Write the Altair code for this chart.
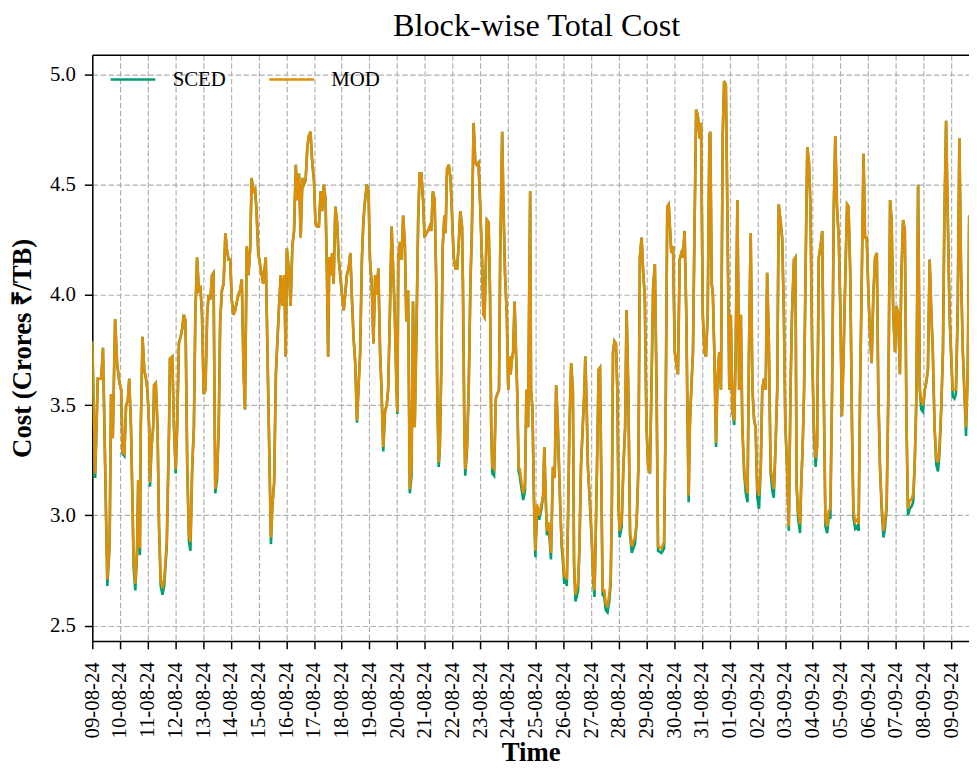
import altair as alt
import pandas as pd

START = "2024-08-09 00:00"

# 15-minute block number since START
BLOCKS = [
    0, 10, 19, 31, 37, 52, 60, 65, 71, 79, 86, 94, 100, 105, 111, 117, 123, 128, 134, 140,
    143, 149, 155, 159, 165, 168, 174, 180, 186, 191, 197, 200, 205, 211, 214, 220, 226, 231, 237, 243,
    249, 258, 266, 269, 277, 283, 289, 294, 300, 306, 312, 317, 323, 329, 335, 340, 346, 352, 357, 363,
    369, 375, 380, 386, 392, 398, 403, 409, 415, 420, 426, 432, 438, 443, 449, 455, 461, 466, 472, 478,
    483, 489, 495, 501, 506, 512, 518, 524, 529, 535, 541, 547, 552, 558, 564, 569, 575, 592, 601, 613,
    619, 624, 630, 636, 647, 653, 659, 665, 670, 674, 682, 687, 693, 699, 705, 710, 716, 722, 728, 733,
    739, 745, 750, 756, 762, 768, 773, 779, 785, 791, 796, 802, 808, 813, 817, 821, 826, 831, 836, 842,
    848, 854, 859, 865, 871, 876, 882, 888, 894, 899, 905, 911, 917, 922, 928, 934, 939, 945, 951, 957,
    962, 968, 974, 980, 985, 991, 997, 1002, 1008, 1014, 1020, 1025, 1031, 1037, 1043, 1048, 1054, 1057, 1060, 1066,
    1071, 1077, 1083, 1088, 1094, 1100, 1106, 1111, 1117, 1123, 1129, 1134, 1140, 1146, 1151, 1157, 1163, 1169, 1174, 1180,
    1186, 1192, 1195, 1200, 1204, 1209, 1214, 1220, 1224, 1229, 1235, 1241, 1247, 1252, 1258, 1264, 1269, 1275, 1281, 1284,
    1289, 1292, 1298, 1304, 1310, 1315, 1321, 1327, 1332, 1338, 1344, 1350, 1355, 1359, 1363, 1367, 1373, 1378, 1382, 1386,
    1392, 1398, 1403, 1409, 1413, 1420, 1424, 1430, 1436, 1441, 1445, 1449, 1454, 1458, 1463, 1468, 1472, 1477, 1481, 1486,
    1493, 1499, 1504, 1510, 1513, 1517, 1520, 1525, 1530, 1535, 1541, 1548, 1556, 1562, 1566, 1571, 1575, 1580, 1585, 1589,
    1596, 1602, 1607, 1613, 1617, 1621, 1626, 1630, 1635, 1640, 1644, 1649, 1653, 1659, 1665, 1669, 1674, 1678, 1683, 1688,
    1693, 1699, 1705, 1708, 1713, 1717, 1724, 1731, 1736, 1740, 1745, 1751, 1754, 1759, 1763, 1768, 1774, 1779, 1785, 1791,
    1796, 1800, 1804, 1809, 1814, 1819, 1823, 1827, 1834, 1840, 1846, 1851, 1857, 1863, 1869, 1874, 1880, 1886, 1892, 1897,
    1903, 1909, 1914, 1920, 1926, 1932, 1937, 1943, 1949, 1955, 1960, 1972, 1981, 1986, 1992, 1997, 2006, 2012, 2018, 2023,
    2029, 2035, 2041, 2046, 2052, 2058, 2061, 2066, 2070, 2075, 2081, 2086, 2092, 2098, 2104, 2109, 2115, 2121, 2126, 2132,
    2138, 2141, 2146, 2150, 2155, 2161, 2166, 2172, 2178, 2184, 2189, 2195, 2201, 2207, 2212, 2218, 2224, 2229, 2235, 2241,
    2247, 2252, 2258, 2264, 2270, 2275, 2281, 2287, 2293, 2298, 2304, 2310, 2316, 2321, 2327, 2333, 2338, 2344, 2350, 2356,
    2361, 2367, 2373, 2378, 2384, 2390, 2396, 2401, 2407, 2413, 2419, 2424, 2431, 2436, 2440, 2445, 2452, 2456, 2461, 2466,
    2471, 2477, 2483, 2488, 2494, 2500, 2506, 2511, 2517, 2523, 2529, 2534, 2540, 2546, 2551, 2557, 2563, 2569, 2574, 2580,
    2586, 2592, 2597, 2603, 2609, 2615, 2620, 2626, 2632, 2637, 2643, 2649, 2655, 2660, 2666, 2672, 2677, 2683, 2689, 2695,
    2700, 2706, 2712, 2718, 2723, 2729, 2735, 2741, 2746, 2752, 2758, 2764, 2769, 2775, 2781, 2786, 2792, 2798, 2803, 2809,
    2815, 2821, 2826, 2832, 2838, 2844, 2849, 2855, 2861, 2867, 2872, 2878, 2884, 2889, 2895, 2901, 2907, 2912, 2918, 2924,
    2930, 2935, 2941, 2947, 2952, 2958, 2964, 2970, 2975, 2981, 2987, 2992, 2998, 3004, 3010, 3016, 3021, 3027, 3033, 3038,
]

MOD = [
    3.79, 3.19, 3.62, 3.62, 3.76, 2.71, 2.88, 3.55, 3.35, 3.89, 3.69, 3.60, 3.57, 3.29, 3.28, 3.50, 3.52, 3.62, 3.40, 3.02,
    2.81, 2.69, 2.85, 3.16, 2.85, 3.40, 3.81, 3.66, 3.62, 3.57, 3.40, 3.15, 3.31, 3.40, 3.59, 3.60, 3.40, 2.97, 2.71, 2.67,
    2.71, 2.88, 3.40, 3.71, 3.72, 3.40, 3.21, 3.40, 3.78, 3.81, 3.85, 3.91, 3.88, 3.22, 2.91, 2.88, 3.22, 3.40, 3.91, 4.17,
    4.02, 4.03, 3.91, 3.55, 3.57, 3.91, 4.00, 3.98, 4.09, 4.10, 3.12, 3.19, 3.40, 3.88, 4.02, 4.05, 4.28, 4.21, 4.16, 4.16,
    3.98, 3.91, 3.93, 3.97, 4.00, 4.02, 4.07, 3.66, 3.48, 4.22, 4.09, 4.21, 4.53, 4.47, 4.48, 4.38, 4.19, 4.05, 4.17, 3.30,
    2.90, 3.05, 3.15, 3.64, 3.95, 4.09, 3.95, 4.09, 3.72, 4.21, 4.09, 3.95, 4.22, 4.29, 4.59, 4.43, 4.55, 4.26, 4.53, 4.50,
    4.52, 4.67, 4.72, 4.74, 4.60, 4.52, 4.33, 4.31, 4.31, 4.47, 4.38, 4.50, 4.43, 4.09, 3.72, 4.17, 4.09, 4.19, 4.05, 4.40,
    4.33, 4.16, 4.09, 4.00, 3.93, 4.00, 4.09, 4.12, 4.19, 4.00, 3.81, 3.69, 3.43, 3.57, 3.74, 4.16, 4.33, 4.43, 4.50, 4.47,
    4.16, 4.05, 3.78, 4.09, 4.00, 4.12, 3.74, 3.57, 3.31, 3.47, 3.50, 3.57, 3.91, 4.31, 4.09, 3.91, 3.57, 3.47, 4.16, 4.24,
    4.16, 4.36, 4.22, 3.88, 4.02, 3.12, 3.22, 3.97, 3.40, 3.83, 4.34, 4.55, 4.55, 4.43, 4.26, 4.28, 4.29, 4.31, 4.29, 4.47,
    4.43, 4.03, 3.57, 3.24, 3.31, 3.66, 4.22, 4.36, 4.28, 4.57, 4.59, 4.53, 4.34, 4.17, 4.12, 4.12, 4.22, 4.38, 4.31, 4.05,
    3.40, 3.21, 3.31, 3.57, 4.05, 4.29, 4.78, 4.60, 4.59, 4.60, 4.40, 4.17, 3.91, 3.90, 4.12, 4.34, 4.33, 4.00, 3.40, 3.22,
    3.21, 3.53, 3.55, 3.57, 4.16, 4.74, 4.43, 4.09, 3.91, 3.57, 3.72, 3.64, 3.71, 3.74, 3.97, 3.74, 3.57, 3.22, 3.21, 3.16,
    3.10, 3.14, 3.57, 3.40, 3.91, 4.47, 3.57, 3.48, 3.09, 2.84, 3.05, 3.00, 3.05, 3.09, 3.31, 3.09, 2.93, 2.97, 2.91, 2.83,
    3.22, 3.17, 3.59, 3.40, 3.22, 3.05, 2.88, 2.83, 2.72, 2.74, 2.71, 3.05, 3.40, 3.69, 3.57, 2.79, 2.64, 2.67, 2.69, 2.88,
    3.22, 3.40, 3.57, 3.72, 3.48, 3.22, 3.07, 2.88, 2.71, 2.66, 2.97, 3.40, 3.66, 3.67, 3.22, 2.66, 2.66, 2.60, 2.59, 2.64,
    2.71, 3.05, 3.74, 3.79, 3.78, 3.57, 3.05, 2.93, 2.98, 3.22, 3.40, 3.93, 3.57, 2.93, 2.86, 2.88, 2.90, 2.97, 3.22, 4.17,
    4.26, 4.09, 4.00, 3.40, 3.22, 3.19, 3.57, 4.03, 4.14, 3.57, 2.86, 2.85, 2.88, 3.40, 4.40, 4.41, 4.19, 4.22, 3.74, 3.69,
    3.64, 4.16, 4.19, 4.17, 4.29, 3.91, 3.57, 3.09, 3.40, 3.57, 3.74, 4.26, 4.84, 4.81, 4.71, 4.78, 3.91, 3.74, 3.72, 3.91,
    4.72, 4.74, 4.05, 4.00, 3.74, 3.33, 3.62, 3.74, 3.57, 4.72, 4.97, 4.95, 4.29, 3.57, 3.91, 3.47, 3.43, 3.74, 4.43, 3.57,
    3.91, 3.40, 3.22, 3.14, 3.10, 3.74, 4.28, 3.57, 3.43, 3.40, 3.12, 3.09, 3.22, 3.57, 3.62, 3.57, 4.10, 3.78, 3.22, 3.16,
    3.12, 3.31, 3.57, 4.41, 4.34, 4.26, 3.91, 3.41, 3.22, 2.95, 3.57, 3.91, 4.16, 4.17, 3.14, 3.02, 2.96, 3.14, 3.31, 3.57,
    4.09, 4.67, 4.60, 4.40, 3.74, 3.40, 3.26, 3.31, 4.17, 4.22, 4.29, 3.57, 2.98, 2.95, 3.02, 3.03, 3.57, 4.40, 4.72, 4.40,
    4.26, 3.91, 3.45, 3.74, 4.09, 4.41, 4.40, 4.09, 3.40, 3.02, 2.97, 2.98, 2.97, 3.57, 4.09, 4.64, 4.26, 4.26, 4.00, 3.81,
    3.69, 4.00, 4.17, 4.19, 3.57, 3.22, 3.05, 2.93, 2.97, 3.05, 3.57, 4.43, 4.34, 3.91, 3.74, 3.95, 3.91, 3.64, 4.09, 4.34,
    4.29, 3.40, 3.03, 3.07, 3.07, 3.10, 3.22, 3.53, 4.50, 3.57, 3.52, 3.50, 3.57, 3.60, 3.66, 4.16, 3.91, 3.74, 3.40, 3.26,
    3.24, 3.31, 3.48, 3.74, 4.34, 4.79, 4.34, 3.91, 3.74, 3.57, 3.57, 3.57, 3.91, 4.71, 4.09, 3.74, 3.57, 3.40, 3.66, 4.36,
]

SCED = [
    3.79, 3.17, 3.62, 3.62, 3.76, 2.68, 2.86, 3.55, 3.35, 3.89, 3.69, 3.60, 3.57, 3.28, 3.27, 3.50, 3.52, 3.62, 3.40, 3.00,
    2.77, 2.66, 2.83, 3.16, 2.82, 3.40, 3.81, 3.66, 3.62, 3.57, 3.40, 3.13, 3.31, 3.40, 3.59, 3.60, 3.40, 2.95, 2.68, 2.64,
    2.68, 2.86, 3.40, 3.71, 3.72, 3.40, 3.19, 3.40, 3.78, 3.81, 3.85, 3.91, 3.88, 3.21, 2.88, 2.84, 3.21, 3.40, 3.91, 4.17,
    4.02, 4.03, 3.91, 3.55, 3.57, 3.91, 4.00, 3.98, 4.09, 4.10, 3.10, 3.16, 3.40, 3.88, 4.02, 4.05, 4.28, 4.21, 4.16, 4.16,
    3.98, 3.91, 3.93, 3.97, 4.00, 4.02, 4.07, 3.66, 3.48, 4.22, 4.09, 4.21, 4.53, 4.47, 4.48, 4.38, 4.19, 4.05, 4.17, 3.30,
    2.87, 3.05, 3.15, 3.64, 3.95, 4.09, 3.95, 4.09, 3.72, 4.21, 4.09, 3.95, 4.22, 4.29, 4.59, 4.43, 4.55, 4.26, 4.53, 4.50,
    4.52, 4.67, 4.72, 4.74, 4.60, 4.52, 4.33, 4.31, 4.31, 4.47, 4.38, 4.50, 4.43, 4.09, 3.72, 4.17, 4.09, 4.19, 4.05, 4.40,
    4.33, 4.16, 4.09, 4.00, 3.93, 4.00, 4.09, 4.12, 4.19, 4.00, 3.81, 3.69, 3.42, 3.57, 3.74, 4.16, 4.33, 4.43, 4.50, 4.47,
    4.16, 4.05, 3.78, 4.09, 4.00, 4.12, 3.74, 3.57, 3.29, 3.47, 3.50, 3.57, 3.91, 4.31, 4.09, 3.91, 3.57, 3.46, 4.16, 4.24,
    4.16, 4.36, 4.22, 3.88, 4.02, 3.10, 3.18, 3.97, 3.40, 3.83, 4.34, 4.55, 4.55, 4.43, 4.26, 4.28, 4.29, 4.31, 4.29, 4.47,
    4.43, 4.03, 3.57, 3.22, 3.30, 3.66, 4.22, 4.36, 4.28, 4.57, 4.59, 4.53, 4.34, 4.17, 4.12, 4.12, 4.22, 4.38, 4.31, 4.05,
    3.40, 3.18, 3.29, 3.57, 4.05, 4.29, 4.78, 4.60, 4.59, 4.60, 4.40, 4.17, 3.91, 3.90, 4.12, 4.34, 4.33, 4.00, 3.40, 3.19,
    3.18, 3.53, 3.55, 3.57, 4.16, 4.74, 4.43, 4.09, 3.91, 3.57, 3.72, 3.64, 3.71, 3.74, 3.97, 3.74, 3.57, 3.20, 3.18, 3.13,
    3.07, 3.11, 3.57, 3.40, 3.91, 4.47, 3.57, 3.48, 3.07, 2.81, 3.03, 2.98, 3.03, 3.09, 3.31, 3.07, 2.91, 2.95, 2.88, 2.80,
    3.22, 3.17, 3.59, 3.40, 3.22, 3.05, 2.86, 2.80, 2.69, 2.71, 2.68, 3.05, 3.40, 3.69, 3.57, 2.77, 2.61, 2.63, 2.66, 2.86,
    3.22, 3.40, 3.57, 3.72, 3.48, 3.22, 3.05, 2.86, 2.69, 2.63, 2.97, 3.40, 3.66, 3.67, 3.22, 2.64, 2.63, 2.57, 2.56, 2.61,
    2.69, 3.05, 3.74, 3.79, 3.78, 3.57, 3.05, 2.90, 2.95, 3.22, 3.40, 3.93, 3.57, 2.91, 2.83, 2.85, 2.87, 2.97, 3.22, 4.17,
    4.26, 4.09, 4.00, 3.40, 3.22, 3.19, 3.57, 4.03, 4.14, 3.57, 2.84, 2.83, 2.85, 3.40, 4.40, 4.41, 4.19, 4.22, 3.74, 3.69,
    3.64, 4.16, 4.19, 4.17, 4.29, 3.91, 3.57, 3.06, 3.40, 3.57, 3.74, 4.26, 4.84, 4.81, 4.71, 4.78, 3.91, 3.74, 3.72, 3.91,
    4.72, 4.74, 4.05, 4.00, 3.74, 3.31, 3.62, 3.74, 3.57, 4.72, 4.97, 4.95, 4.29, 3.57, 3.91, 3.47, 3.41, 3.74, 4.43, 3.57,
    3.91, 3.40, 3.20, 3.10, 3.06, 3.74, 4.28, 3.57, 3.43, 3.40, 3.08, 3.03, 3.22, 3.57, 3.62, 3.57, 4.10, 3.78, 3.20, 3.11,
    3.08, 3.31, 3.57, 4.41, 4.34, 4.26, 3.91, 3.41, 3.22, 2.93, 3.57, 3.91, 4.16, 4.17, 3.14, 2.99, 2.92, 3.14, 3.31, 3.57,
    4.09, 4.67, 4.60, 4.40, 3.74, 3.37, 3.22, 3.31, 4.17, 4.22, 4.29, 3.57, 2.95, 2.92, 2.99, 2.99, 3.57, 4.40, 4.72, 4.40,
    4.26, 3.91, 3.45, 3.74, 4.09, 4.41, 4.40, 4.09, 3.40, 2.99, 2.94, 2.95, 2.93, 3.57, 4.09, 4.64, 4.26, 4.26, 4.00, 3.81,
    3.69, 4.00, 4.17, 4.19, 3.57, 3.22, 3.02, 2.90, 2.94, 3.03, 3.57, 4.43, 4.34, 3.91, 3.74, 3.95, 3.91, 3.64, 4.09, 4.34,
    4.29, 3.40, 3.00, 3.03, 3.04, 3.06, 3.22, 3.53, 4.50, 3.57, 3.48, 3.47, 3.57, 3.60, 3.66, 4.16, 3.91, 3.74, 3.40, 3.23,
    3.20, 3.28, 3.48, 3.74, 4.34, 4.79, 4.34, 3.91, 3.74, 3.54, 3.53, 3.55, 3.91, 4.71, 4.09, 3.74, 3.57, 3.36, 3.66, 4.36,
]

SERIES = ["SCED", "MOD"]
COLORS = ["#029e73", "#de8f05"]
Y_TICKS = [2.5, 3.0, 3.5, 4.0, 4.5, 5.0]
TICK_DAYS = pd.date_range("2024-08-09", "2024-09-09", freq="D")

FONT = "Liberation Serif"

times = pd.Timestamp(START) + pd.to_timedelta([b * 15 for b in BLOCKS], unit="m")
df = pd.concat([
    pd.DataFrame({"time": times, "cost": SCED, "series": "SCED"}),
    pd.DataFrame({"time": times, "cost": MOD, "series": "MOD"}),
], ignore_index=True)

x_domain = [
    alt.DateTime(year=2024, month=8, date=9),
    alt.DateTime(year=2024, month=9, date=9, hours=15, minutes=20),
]
tick_vals = [alt.DateTime(year=d.year, month=d.month, date=d.day) for d in TICK_DAYS]

x_scale = alt.Scale(domain=x_domain, nice=False)
y_scale = alt.Scale(domain=[2.431, 5.089], nice=False, zero=False)

y_enc = alt.Y(
    "cost:Q", scale=y_scale,
    axis=alt.Axis(values=Y_TICKS, format=".1f", title="Cost (Crores ₹/TB)",
                  titleFontWeight="bold", titleFontSize=27, titleX=-70,
                  titleBaseline="middle", labelFontSize=21, labelPadding=9),
)
color_enc = alt.Color(
    "series:N",
    scale=alt.Scale(domain=SERIES, range=COLORS),
    legend=alt.Legend(
        title=None, orient="none", legendX=17, legendY=1, direction="horizontal",
        symbolType="stroke", symbolSize=2025, symbolStrokeWidth=2.5,
        labelFont=FONT, labelFontSize=21, labelOffset=16, columnPadding=38,
        labelColor="black", padding=0,
    ),
)

base = alt.Chart(df)

sced = base.transform_filter(alt.datum.series == "SCED").mark_line(strokeWidth=2.6, clip=True).encode(
    x=alt.X("time:T", scale=x_scale,
            axis=alt.Axis(values=tick_vals, format="%d-%m-%y", labelAngle=270,
                          title="Time", titleFontWeight="bold", titleFontSize=27,
                          titleY=121, titleBaseline="alphabetic",
                          labelFontSize=21, labelPadding=13)),
    y=y_enc,
    color=color_enc,
)

mod = base.transform_filter(alt.datum.series == "MOD").mark_line(strokeWidth=2.6, clip=True).encode(
    x=alt.X("time:T", scale=x_scale,
            axis=alt.Axis(orient="top", labels=False, ticks=False, grid=False, title=None,
                          domain=True)),
    y=y_enc,
    color=color_enc,
)

chart = alt.layer(sced, mod).resolve_axis(x="independent").properties(
    width=884, height=591,
    padding={"left": 85, "top": 44, "right": 0, "bottom": 123},
    autosize=alt.AutoSizeParams(type="none"),
    title=alt.TitleParams("Block-wise Total Cost", font=FONT, fontSize=32.5,
                          fontWeight="normal", anchor="middle", color="black",
                          baseline="alphabetic", offset=16, dy=30, dx=6),
).configure_view(stroke=None).configure_axis(
    labelFont=FONT, titleFont=FONT, labelColor="black", titleColor="black",
    domainColor="black", domainWidth=1.5, tickColor="black", tickWidth=1.5, tickSize=8,
    gridColor="#b0b0b0", gridDash=[5.5, 2.5], gridWidth=1.2,
)

chart.save("out.html", embed_options={"renderer": "svg", "actions": False})
